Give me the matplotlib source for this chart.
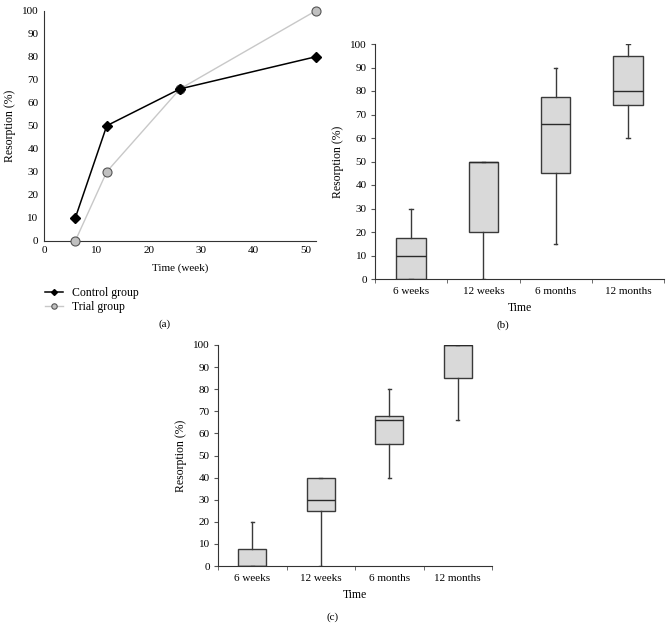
import matplotlib
matplotlib.use("Agg")
import matplotlib.pyplot as plt

plt.rcParams['font.family'] = ['Liberation Serif', 'DejaVu Serif']
plt.rcParams['font.size'] = 8

# Panel (a) data
weeks = [6, 12, 26, 52]
control = [10, 50, 66, 80]
trial = [0, 30, 66, 100]

# Box panels
categories = ["6 weeks", "12 weeks", "6 months", "12 months"]
# (b): whislo, q1, med, q3, whishi
b_low = [0, 0, 15, 60]
b_q1 = [0, 20, 45, 74]
b_med = [10, 50, 66, 80]
b_q3 = [17.5, 50, 77.5, 95]
b_high = [30, 50, 90, 100]
# (c)
c_low = [0, 0, 40, 66]
c_q1 = [0, 25, 55, 85]
c_med = [0, 30, 66, 100]
c_q3 = [7.5, 40, 68, 100]
c_high = [20, 40, 80, 100]

fig = plt.figure(figsize=(6.72, 6.35), dpi=100)

def style(ax):
    for s in ["top", "right"]:
        ax.spines[s].set_visible(False)
    for s in ["left", "bottom"]:
        ax.spines[s].set_color("#333333")
        ax.spines[s].set_linewidth(0.8)

# ---- (a)
axa = fig.add_axes([44/672, 1-240.7/635, 272/672, 230/635])
style(axa)
axa.plot(weeks, trial, color="#c8c8c8", lw=1.0, marker="o", ms=6.5,
         mfc="#c0c0c0", mec="#555555", mew=0.8, label="Trial group", zorder=3,
         clip_on=False)
axa.plot(weeks, control, color="black", lw=1.1, marker="D", ms=5,
         mfc="black", mec="black", label="Control group", zorder=4,
         clip_on=False)
axa.set_xlim(0, 52)
axa.set_ylim(0, 100)
axa.set_xticks(range(0, 51, 10))
axa.set_yticks(range(0, 101, 10))
axa.tick_params(length=0, pad=4)
axa.set_xlabel("Time (week)", labelpad=6)
axa.set_ylabel("Resorption (%)", labelpad=4, fontsize=8.5)
h, l = axa.get_legend_handles_labels()
axa.legend(h[::-1], l[::-1], loc="upper left", bbox_to_anchor=(-0.035, -0.155),
           frameon=False, handlelength=1.5, handletextpad=0.8, labelspacing=0.2,
           markerscale=0.6, fontsize=8.5)
fig.text(165/672, 1-324/635, "(a)", ha="center", va="center", fontsize=8)

def boxpanel(rect, low, q1, med, q3, high, label, lab_xy):
    ax = fig.add_axes(rect)
    style(ax)
    stats = []
    for i in range(len(categories)):
        stats.append(dict(whislo=low[i], q1=q1[i], med=med[i], q3=q3[i],
                          whishi=high[i], label=categories[i]))
    ax.bxp(stats, positions=range(len(categories)), widths=0.41,
           patch_artist=True, showfliers=False,
           boxprops=dict(facecolor="#d9d9d9", edgecolor="#3a3a3a", linewidth=1.0),
           medianprops=dict(color="#2a2a2a", linewidth=1.0),
           whiskerprops=dict(color="#3a3a3a", linewidth=1.0),
           capprops=dict(color="#3a3a3a", linewidth=1.0), capwidths=0.05)
    ax.set_xlim(-0.5, len(categories) - 0.5)
    ax.set_ylim(0, 100)
    ax.set_yticks(range(0, 101, 10))
    ax.set_xticks(range(len(categories)))
    ax.set_xticklabels(categories)
    ax.set_xticks([i - 0.5 for i in range(len(categories) + 1)], minor=True)
    ax.tick_params(axis="x", which="major", length=0, pad=6)
    ax.tick_params(axis="x", which="minor", length=3, color="#555555")
    ax.tick_params(axis="y", length=3, color="#555555", pad=3)
    ax.set_xlabel("Time", labelpad=4, fontsize=8.5)
    ax.set_ylabel("Resorption (%)", labelpad=4, fontsize=8.5)
    fig.text(lab_xy[0]/672, 1-lab_xy[1]/635, label, ha="center", va="center", fontsize=8)
    return ax

boxpanel([375/672, 1-279/635, 289/672, 235/635], b_low, b_q1, b_med, b_q3, b_high,
         "(b)", (503, 325))
boxpanel([218/672, 1-566/635, 274/672, 221/635], c_low, c_q1, c_med, c_q3, c_high,
         "(c)", (333, 617))

fig.savefig("out.png", dpi=100)
